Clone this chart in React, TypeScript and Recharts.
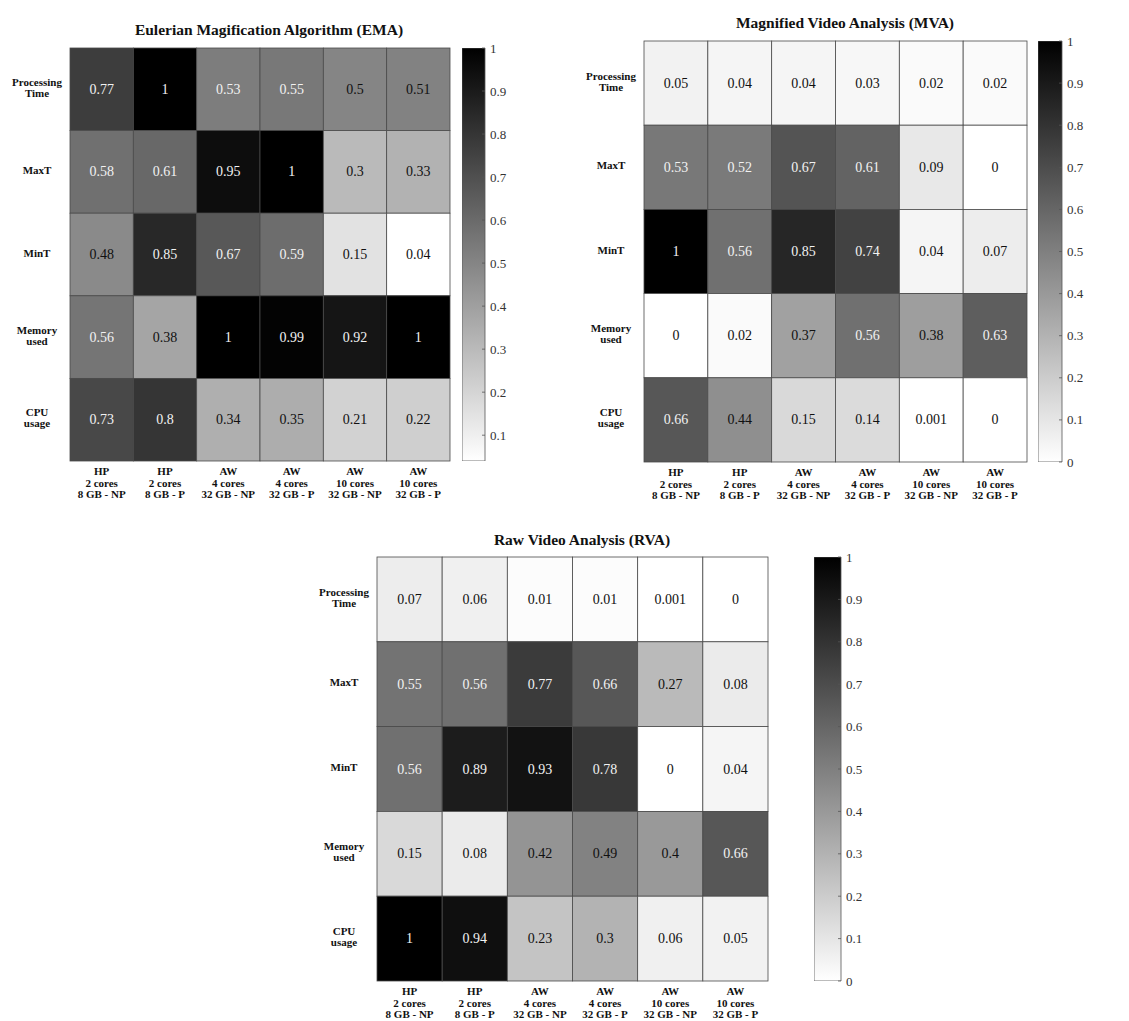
import React from 'react';
import { ScatterChart, Scatter, XAxis, YAxis, BarChart, Bar } from 'recharts';

// ---------- categories ----------
const COLUMN_LABELS: string[][] = [
  ['HP', '2 cores', '8 GB - NP'],
  ['HP', '2 cores', '8 GB - P'],
  ['AW', '4 cores', '32 GB - NP'],
  ['AW', '4 cores', '32 GB - P'],
  ['AW', '10 cores', '32 GB - NP'],
  ['AW', '10 cores', '32 GB - P'],
];
const ROW_LABELS: string[][] = [
  ['Processing', 'Time'],
  ['MaxT'],
  ['MinT'],
  ['Memory', 'used'],
  ['CPU', 'usage'],
];

// ---------- EMA ----------
const EMA_PROCESSING = [0.77, 1, 0.53, 0.55, 0.5, 0.51];
const EMA_MAXT = [0.58, 0.61, 0.95, 1, 0.3, 0.33];
const EMA_MINT = [0.48, 0.85, 0.67, 0.59, 0.15, 0.04];
const EMA_MEMORY = [0.56, 0.38, 1, 0.99, 0.92, 1];
const EMA_CPU = [0.73, 0.8, 0.34, 0.35, 0.21, 0.22];

// ---------- MVA ----------
const MVA_PROCESSING = [0.05, 0.04, 0.04, 0.03, 0.02, 0.02];
const MVA_MAXT = [0.53, 0.52, 0.67, 0.61, 0.09, 0];
const MVA_MINT = [1, 0.56, 0.85, 0.74, 0.04, 0.07];
const MVA_MEMORY = [0, 0.02, 0.37, 0.56, 0.38, 0.63];
const MVA_CPU = [0.66, 0.44, 0.15, 0.14, 0.001, 0];

// ---------- RVA ----------
const RVA_PROCESSING = [0.07, 0.06, 0.01, 0.01, 0.001, 0];
const RVA_MAXT = [0.55, 0.56, 0.77, 0.66, 0.27, 0.08];
const RVA_MINT = [0.56, 0.89, 0.93, 0.78, 0, 0.04];
const RVA_MEMORY = [0.15, 0.08, 0.42, 0.49, 0.4, 0.66];
const RVA_CPU = [1, 0.94, 0.23, 0.3, 0.06, 0.05];

// ---------- colour-bar ticks ----------
const EMA_TICKS = [0.1, 0.2, 0.3, 0.4, 0.5, 0.6, 0.7, 0.8, 0.9, 1];
const FULL_TICKS = [0, 0.1, 0.2, 0.3, 0.4, 0.5, 0.6, 0.7, 0.8, 0.9, 1];

const EMA_MIN = 0.04;
const FONT = '"Liberation Serif", "Times New Roman", serif';

const X_TICKS = [0.5, 1.5, 2.5, 3.5, 4.5, 5.5];
const Y_TICKS = [0.5, 1.5, 2.5, 3.5, 4.5];

const grayOf = (v: number, min: number, max: number) => {
  const n = Math.max(0, Math.min(1, (v - min) / (max - min)));
  const g = Math.round(255 * (1 - n));
  return `rgb(${g},${g},${g})`;
};

const XTick = (props: any) => {
  const { x, y, payload } = props;
  const idx = Math.floor(payload.value);
  const lines = COLUMN_LABELS[idx] || [];
  return (
    <text x={x} y={y} textAnchor="middle" fontFamily={FONT} fontWeight="bold" fontSize={11} fill="#111">
      {lines.map((l, i) => (
        <tspan key={i} x={x} dy={i === 0 ? 14 : 11.5}>{l}</tspan>
      ))}
    </text>
  );
};

const YTick = (props: any) => {
  const { x, y, payload } = props;
  const idx = Math.floor(payload.value);
  const lines = ROW_LABELS[idx] || [];
  const cx = x - 33;
  const start = y - 2 - ((lines.length - 1) * 11) / 2;
  return (
    <text x={cx} y={start} textAnchor="middle" dominantBaseline="central" fontFamily={FONT} fontWeight="bold" fontSize={11} fill="#111">
      {lines.map((l, i) => (
        <tspan key={i} x={cx} dy={i === 0 ? 0 : 11}>{l}</tspan>
      ))}
    </text>
  );
};

const fmt = (v: number) => String(v);

type Box = { x: number; y: number; w: number; h: number };

function Heatmap(props: {
  id: string;
  title: string;
  rows: number[][];
  min: number;
  max: number;
  plot: Box;
  bar: { x: number; w: number };
  titlePos: { cx: number; cy: number };
  ticks: number[];
}) {
  const { id, title, rows, min, max, plot, bar, titlePos, ticks } = props;
  const data: { x: number; y: number; v: number }[] = [];
  rows.forEach((row, r) => row.forEach((v, c) => data.push({ x: c + 0.5, y: r + 0.5, v })));
  const cw = plot.w / 6;
  const ch = plot.h / 5;
  const pad = 2;

  const shape = (p: any) => {
    const { cx, cy, payload } = p;
    const v = payload.v;
    const n = (v - min) / (max - min);
    return (
      <g>
        <rect x={cx - cw / 2} y={cy - ch / 2} width={cw} height={ch} fill={grayOf(v, min, max)} stroke="#4a4a4a" strokeWidth={0.8} />
        <text x={cx} y={cy} textAnchor="middle" dominantBaseline="central" fontFamily={FONT} fontSize={14} fill={n > 0.5 ? '#f2f2f2' : '#111'}>
          {fmt(v)}
        </text>
      </g>
    );
  };

  const cbData = [{ name: 'cb', range: [min, max] }];

  const CbTick = (tp: any) => {
    const { x, y, payload } = tp;
    return (
      <g>
        <line x1={x - 3} x2={x} y1={y} y2={y} stroke="#555" strokeWidth={0.8} />
        <text x={x + 5} y={y} dominantBaseline="central" fontFamily={FONT} fontSize={13} fill="#333">
          {String(payload.value)}
        </text>
      </g>
    );
  };

  return (
    <>
      <div
        style={{
          position: 'absolute',
          left: titlePos.cx - 200,
          width: 400,
          top: titlePos.cy - 9,
          textAlign: 'center',
          fontFamily: FONT,
          fontWeight: 'bold',
          fontSize: 15.5,
          lineHeight: '18px',
          color: '#111',
          whiteSpace: 'nowrap',
        }}
      >
        {title}
      </div>
      <div style={{ position: 'absolute', left: plot.x - 70, top: plot.y - pad }}>
        <ScatterChart width={70 + plot.w + pad} height={plot.h + pad + 48} margin={{ top: pad, right: pad, bottom: 0, left: 0 }}>
          <XAxis
            type="number"
            dataKey="x"
            domain={[0, 6]}
            ticks={X_TICKS}
            interval={0}
            tick={<XTick />}
            tickLine={false}
            axisLine={false}
            tickSize={0}
            tickMargin={0}
            height={48}
          />
          <YAxis
            type="number"
            dataKey="y"
            domain={[0, 5]}
            reversed
            ticks={Y_TICKS}
            interval={0}
            tick={<YTick />}
            tickLine={false}
            axisLine={false}
            tickSize={0}
            tickMargin={0}
            width={70}
          />
          <Scatter data={data} shape={shape} isAnimationActive={false} />
        </ScatterChart>
      </div>
      <div style={{ position: 'absolute', left: bar.x, top: plot.y - 10 }}>
        <BarChart width={bar.w + 40} height={plot.h + 20} data={cbData} margin={{ top: 10, right: 0, bottom: 10, left: 0 }} barCategoryGap={0}>
          <defs>
            <linearGradient id={`grad-${id}`} x1="0" y1="0" x2="0" y2="1">
              <stop offset="0%" stopColor="#000" />
              <stop offset="100%" stopColor="#fff" />
            </linearGradient>
          </defs>
          <XAxis dataKey="name" hide />
          <YAxis
            orientation="right"
            type="number"
            domain={[min, max]}
            ticks={ticks}
            interval={0}
            allowDataOverflow
            width={40}
            axisLine={false}
            tickLine={false}
            tickSize={0}
            tickMargin={0}
            tick={<CbTick />}
          />
          <Bar dataKey="range" fill={`url(#grad-${id})`} stroke="#555" strokeWidth={0.8} isAnimationActive={false} />
        </BarChart>
      </div>
    </>
  );
}

export default function App() {
  return (
    <div style={{ position: 'absolute', left: 0, top: 0, width: 1129, height: 1021, background: '#fff' }}>
      <Heatmap
        id="ema"
        title="Eulerian Magification Algorithm (EMA)"
        rows={[EMA_PROCESSING, EMA_MAXT, EMA_MINT, EMA_MEMORY, EMA_CPU]}
        min={EMA_MIN}
        max={1}
        plot={{ x: 70, y: 48, w: 380, h: 413 }}
        bar={{ x: 462, w: 23 }}
        titlePos={{ cx: 269, cy: 30 }}
        ticks={EMA_TICKS}
      />
      <Heatmap
        id="mva"
        title="Magnified Video Analysis (MVA)"
        rows={[MVA_PROCESSING, MVA_MAXT, MVA_MINT, MVA_MEMORY, MVA_CPU]}
        min={0}
        max={1}
        plot={{ x: 644, y: 41, w: 383, h: 421 }}
        bar={{ x: 1038, w: 24 }}
        titlePos={{ cx: 845, cy: 23 }}
        ticks={FULL_TICKS}
      />
      <Heatmap
        id="rva"
        title="Raw Video Analysis (RVA)"
        rows={[RVA_PROCESSING, RVA_MAXT, RVA_MINT, RVA_MEMORY, RVA_CPU]}
        min={0}
        max={1}
        plot={{ x: 377, y: 557, w: 391, h: 424 }}
        bar={{ x: 814, w: 27 }}
        titlePos={{ cx: 582, cy: 540 }}
        ticks={FULL_TICKS}
      />
    </div>
  );
}
